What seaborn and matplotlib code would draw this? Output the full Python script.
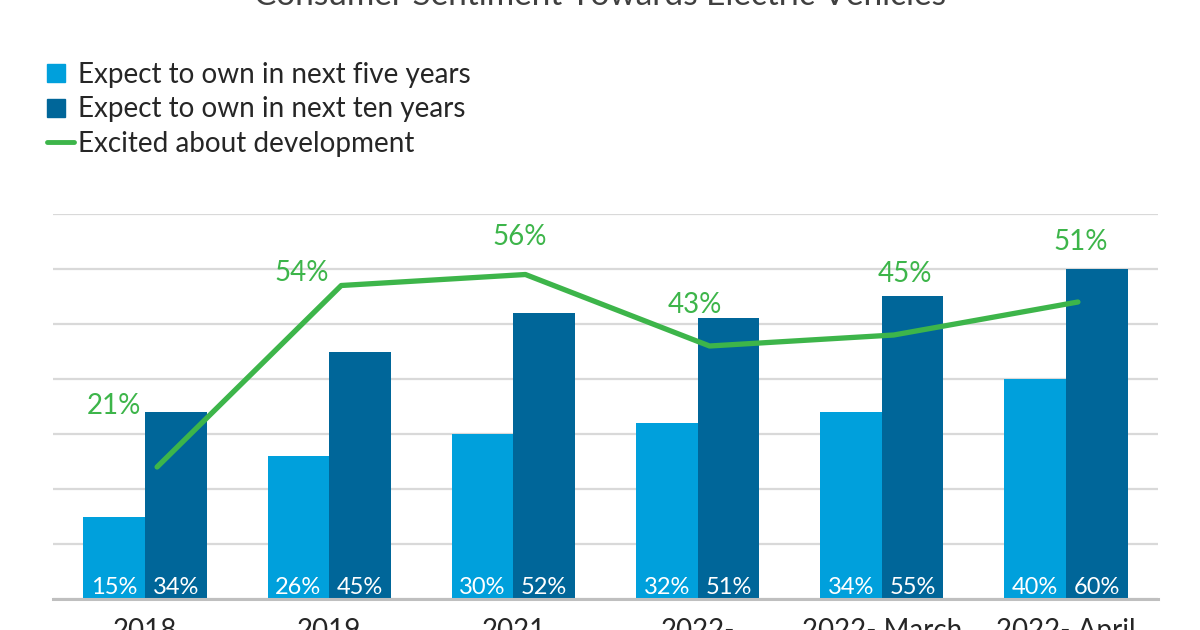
import matplotlib
matplotlib.use('Agg')
import numpy as np
import pandas as pd
import matplotlib.pyplot as plt
import matplotlib.transforms as mtransforms
from matplotlib.patches import Patch, Rectangle
from matplotlib.lines import Line2D
from matplotlib.legend_handler import HandlerPatch
import seaborn as sns

# data
periods = ['2018', '2019', '2021', '2022-', '2022- March', '2022- April']
five_years = [15, 26, 30, 32, 34, 40]
ten_years = [34, 45, 52, 51, 55, 60]
excited = [21, 54, 56, 43, 45, 51]
bar_series = ['Expect to own in next five years', 'Expect to own in next ten years']
line_series = 'Excited about development'
title = 'Consumer Sentiment Towards Electric Vehicles'

LIGHT = '#00A0DC'
DARK = '#006699'
GREEN = '#3DB54A'
TEXT = '#262626'

sns.set_theme(style='white')
plt.rcParams['font.family'] = ['Lato', 'DejaVu Sans']

df = pd.DataFrame({
    'period': periods * 2,
    'value': five_years + ten_years,
    'series': [bar_series[0]] * len(periods) + [bar_series[1]] * len(periods),
})

fig = plt.figure(figsize=(12, 6.3), dpi=100)
ax = fig.add_axes([53 / 1200, 31 / 630, 1105 / 1200, 385 / 630])

sns.barplot(data=df, x='period', y='value', hue='series', hue_order=bar_series,
            palette=[LIGHT, DARK], width=0.67, gap=0, saturation=1,
            linewidth=0, legend=False, ax=ax)

ax.set_ylim(0, 70)
ax.set_xlim(-0.5, len(periods) - 0.5)
ax.set_yticks(range(0, 71, 10))
ax.set_yticklabels([])
ax.yaxis.grid(True, color='#D9D9D9', lw=1.6)
ax.set_axisbelow(True)
for side in ['top', 'left', 'right']:
    ax.spines[side].set_visible(False)
ax.spines['bottom'].set_color('#BFBFBF')
ax.spines['bottom'].set_linewidth(2.2)
ax.set_xlabel('')
ax.set_ylabel('')
ax.tick_params(axis='x', length=0, pad=14, labelsize=20, labelcolor=TEXT)
ax.tick_params(axis='y', length=0)

# bar value labels, white at the foot of each bar
for cont, vals in zip(ax.containers, [five_years, ten_years]):
    for bar, v in zip(cont, vals):
        ax.annotate(f'{v}%', (bar.get_x() + bar.get_width() / 2, 0),
                    xytext=(0, 5), textcoords='offset pixels',
                    ha='center', va='baseline', color='white', fontsize=17)

# line sits on a secondary (hidden) scale, slightly shifted right
ax2 = ax.twinx()
ax2.set_ylim(-3, 67)
ax2.axis('off')
xpos = np.arange(len(periods))
sns.lineplot(x=xpos, y=excited, ax=ax2, color=GREEN, lw=3.8)
shift = mtransforms.ScaledTranslation(12 / 100, 0, fig.dpi_scale_trans)
ax2.lines[0].set_transform(ax2.transData + shift)
ax2.set_xlim(ax.get_xlim())

label_offsets = [(-43, 53), (-40, 4), (-6, 29), (-15, 33), (11, 53), (3, 52)]
for x, v, (dx, dy) in zip(xpos, excited, label_offsets):
    ax2.annotate(f'{v}%', (x, v), xytext=(dx + 12, dy), textcoords='offset pixels',
                 ha='center', va='baseline', color=GREEN, fontsize=20)

# legend
def small_square(legend, orig_handle, xdescent, ydescent, width, height, fontsize):
    s = 0.65 * fontsize
    return Rectangle((-xdescent, -ydescent + (height - s) / 2), s, s)

handles = [Patch(color=LIGHT), Patch(color=DARK), Line2D([], [], color=GREEN, lw=3.5)]
fig.legend(handles, bar_series + [line_series], loc='upper left',
           bbox_to_anchor=(47 / 1200, 1 - 62 / 630), frameon=False, fontsize=20.1,
           handlelength=0.98, handletextpad=0.12, labelspacing=0.3, borderpad=0,
           borderaxespad=0, labelcolor=TEXT,
           handler_map={Patch: HandlerPatch(patch_func=small_square)})

fig.text(0.5, 1 - 5 / 630, title, ha='center', va='baseline', fontsize=24, color='#404040')

fig.savefig('out.png', dpi=100)
plt.close(fig)
